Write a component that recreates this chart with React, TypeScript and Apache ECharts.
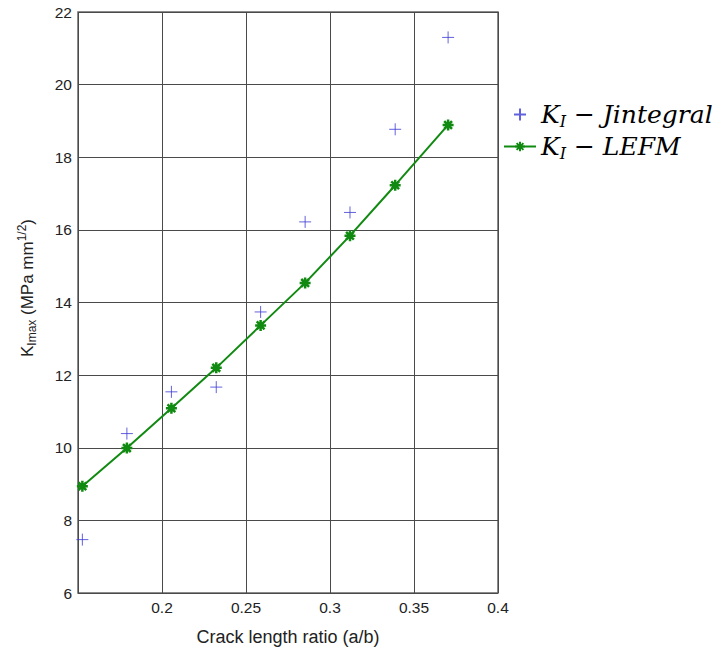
import React, { useEffect, useRef } from 'react';
import * as echarts from 'echarts';

const ratio = [0.1526, 0.1791, 0.2056, 0.2323, 0.2587, 0.2852, 0.3119, 0.3388, 0.3703];
const kJintegral = [7.47, 10.39, 11.54, 11.67, 13.74, 16.22, 16.48, 18.77, 21.3];
const kLEFM = [8.94, 9.99, 11.09, 12.2, 13.37, 14.54, 15.84, 17.23, 18.89];

const xTicks = { min: 0.15, max: 0.4, interval: 0.05 };
const yTicks = { min: 6, max: 22, interval: 2 };

const seriesNames = ['Jintegral', 'LEFM'];

const PLUS = 'path://M5,0L5,10M0,5L10,5';
const STAR = 'path://M5,0L5,10M0,5L10,5M1.46,1.46L8.54,8.54M8.54,1.46L1.46,8.54';

const BLUE = '#3b3bd6';
const GREEN = '#118a11';
const SANS = '"Liberation Sans", Arial, sans-serif';
const SERIF = '"DejaVu Serif", "Liberation Serif", serif';

export default function App() {
  const ref = useRef<HTMLDivElement>(null);
  useEffect(() => {
    if (!ref.current) return;
    const chart = echarts.init(ref.current, null, { renderer: 'svg' });
    const jData = ratio.map((x, i) => [x, kJintegral[i]]);
    const lData = ratio.map((x, i) => [x, kLEFM[i]]);
    const legendRich = {
      k: { fontFamily: SERIF, fontStyle: 'italic', fontSize: 25, color: '#000' },
      s: { fontFamily: SERIF, fontStyle: 'italic', fontSize: 16, color: '#000', padding: [13, 0, 0, 0] },
      m: { fontFamily: SERIF, fontSize: 25, color: '#000' },
    };
    chart.setOption({
      animation: false,
      backgroundColor: '#ffffff',
      grid: {
        left: 78, right: 227, top: 12, bottom: 60,
        show: true, borderColor: '#666', borderWidth: 1.5, containLabel: false,
      },
      xAxis: {
        type: 'value',
        min: xTicks.min, max: xTicks.max, interval: xTicks.interval,
        axisLine: { show: false },
        axisTick: { show: false },
        splitLine: { show: true, lineStyle: { color: '#4a4a4a', width: 1 } },
        axisLabel: {
          color: '#222', fontSize: 15.5, fontFamily: SANS, margin: 6,
          formatter: (v: number) => (v < 0.17 ? '' : String(parseFloat(v.toFixed(2)))),
        },
        name: 'Crack length ratio (a/b)',
        nameLocation: 'middle',
        nameGap: 35,
        nameTextStyle: { color: '#222', fontSize: 18, fontFamily: SANS },
      },
      yAxis: {
        type: 'value',
        min: yTicks.min, max: yTicks.max, interval: yTicks.interval,
        axisLine: { show: false },
        axisTick: { show: false },
        splitLine: { show: true, lineStyle: { color: '#4a4a4a', width: 1 } },
        axisLabel: { color: '#222', fontSize: 15.5, fontFamily: SANS, margin: 6 },
      },
      legend: {
        orient: 'vertical',
        left: 503,
        top: 102,
        padding: 0,
        itemWidth: 32,
        itemHeight: 12,
        itemGap: 5,
        data: seriesNames,
        formatter: (name: string) => `{k|K}{s|I}{m| − }{k|${name}}`,
        textStyle: { rich: legendRich, fontSize: 25 },
      },
      graphic: [
        {
          type: 'text',
          x: 27,
          y: 288,
          rotation: Math.PI / 2,
          style: {
            text: '{a|K}{b|Imax}{a| (MPa mm}{c|1/2}{a|)}',
            align: 'center',
            verticalAlign: 'middle',
            rich: {
              a: { fontFamily: SANS, fontSize: 17, fill: '#222' },
              b: { fontFamily: SANS, fontSize: 12, fill: '#222', padding: [10, 0, 0, 0] },
              c: { fontFamily: SANS, fontSize: 12, fill: '#222', padding: [0, 0, 10, 0] },
            },
          },
        },
      ],
      series: [
        {
          name: seriesNames[0],
          type: 'scatter',
          data: jData,
          symbol: PLUS,
          symbolSize: 12,
          itemStyle: { color: 'rgba(0,0,0,0)', borderColor: BLUE, borderWidth: 1 },
        },
        {
          name: seriesNames[1],
          type: 'line',
          data: lData,
          symbol: STAR,
          symbolSize: 11,
          showAllSymbol: true,
          lineStyle: { color: GREEN, width: 2 },
          itemStyle: { color: GREEN, borderColor: GREEN, borderWidth: 2.5 },
        },
      ],
    });
    return () => chart.dispose();
  }, []);
  return (
    <div
      ref={ref}
      style={{ position: 'fixed', left: 0, top: 0, width: 725, height: 653, background: '#fff' }}
    />
  );
}
